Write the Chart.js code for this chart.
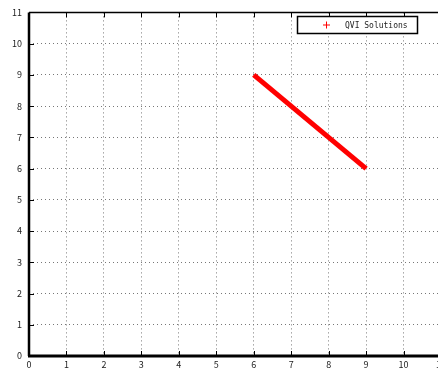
<!DOCTYPE html>
<html>
<head>
<meta charset="utf-8">
<script src="https://cdn.jsdelivr.net/npm/chart.js@4"></script>
<style>
  html, body { margin: 0; padding: 0; background: #fff; overflow: hidden; }
  #wrap { width: 462px; height: 372px; }
</style>
</head>
<body>
<div id="wrap"><canvas id="myChart" width="462" height="372"></canvas></div>
<script>
const seriesLabel = "QVI Solutions";
const xValues = [6, 9];
const yValues = [9, 6];
const xTicks = [0, 1, 2, 3, 4, 5, 6, 7, 8, 9, 10, 11];
const yTicks = [0, 1, 2, 3, 4, 5, 6, 7, 8, 9, 10, 11];

const FONT = "'Noto Sans CJK JP', 'DejaVu Sans Condensed', sans-serif";

// axes box + inward ticks, like the original plot
const framePlugin = {
  id: "frame",
  afterDatasetsDraw(chart) {
    const { ctx, chartArea: a, scales } = chart;
    ctx.save();
    ctx.strokeStyle = "#000";
    ctx.lineWidth = 1;
    xTicks.forEach((v) => {
      const x = Math.round(scales.x.getPixelForValue(v)) + 0.5;
      ctx.beginPath();
      ctx.moveTo(x, a.bottom); ctx.lineTo(x, a.bottom - 5);
      ctx.moveTo(x, a.top); ctx.lineTo(x, a.top + 5);
      ctx.stroke();
    });
    yTicks.forEach((v) => {
      const y = Math.round(scales.y.getPixelForValue(v)) + 0.5;
      ctx.beginPath();
      ctx.moveTo(a.left, y); ctx.lineTo(a.left + 5, y);
      ctx.stroke();
    });
    ctx.lineWidth = 1.5;
    ctx.beginPath();
    ctx.moveTo(a.left, a.top); ctx.lineTo(a.right, a.top);
    ctx.stroke();
    ctx.lineWidth = 2.5;
    ctx.beginPath();
    ctx.moveTo(a.left, a.top); ctx.lineTo(a.left, a.bottom);
    ctx.stroke();
    ctx.lineWidth = 3;
    ctx.beginPath();
    ctx.moveTo(a.left - 1, a.bottom); ctx.lineTo(a.right, a.bottom);
    ctx.stroke();

    // legend box
    const bx = 297.5, by = 16.5, bw = 120, bh = 17;
    ctx.fillStyle = "#fff";
    ctx.fillRect(bx, by, bw, bh);
    ctx.lineWidth = 1.5;
    ctx.strokeStyle = "#000";
    ctx.strokeRect(bx, by, bw, bh);
    ctx.strokeStyle = "#f00";
    ctx.lineWidth = 1;
    ctx.beginPath();
    ctx.moveTo(323, by + 8.5); ctx.lineTo(330, by + 8.5);
    ctx.moveTo(326.5, by + 5); ctx.lineTo(326.5, by + 12);
    ctx.stroke();
    ctx.fillStyle = "#222";
    ctx.font = "8px 'DejaVu Sans Mono', monospace";
    ctx.textBaseline = "middle";
    ctx.fillText(seriesLabel, 345, by + 9);
    ctx.restore();
  },
};

const ctx = document.getElementById("myChart").getContext("2d");
new Chart(ctx, {
  type: "scatter",
  data: {
    datasets: [
      {
        label: seriesLabel,
        data: xValues.map((x, i) => ({ x: x, y: yValues[i] })),
        showLine: true,
        borderColor: "#ff0000",
        borderWidth: 5,
        pointRadius: 0,
        fill: false,
      },
    ],
  },
  options: {
    responsive: false,
    animation: false,
    layout: { padding: { top: 11, right: 21, left: 0, bottom: 0 } },
    plugins: { legend: { display: false }, tooltip: { enabled: false } },
    scales: {
      x: {
        type: "linear",
        min: 0,
        max: 11,
        afterBuildTicks: (s) => { s.ticks = xTicks.map((v) => ({ value: v })); },
        afterFit: (s) => { s.height = 16; },
        border: { display: false, dash: [1, 3] },
        grid: { color: "#777", drawTicks: false },
        ticks: { color: "#222", font: { family: FONT, size: 9 }, padding: 3, maxRotation: 0 },
      },
      y: {
        type: "linear",
        min: 0,
        max: 11,
        afterBuildTicks: (s) => { s.ticks = yTicks.map((v) => ({ value: v })); },
        afterFit: (s) => { s.width = 29; },
        border: { display: false, dash: [1, 3] },
        grid: { color: "#777", drawTicks: false },
        ticks: { color: "#222", font: { family: FONT, size: 9 }, padding: 7 },
      },
    },
  },
  plugins: [framePlugin],
});
</script>
</body>
</html>
